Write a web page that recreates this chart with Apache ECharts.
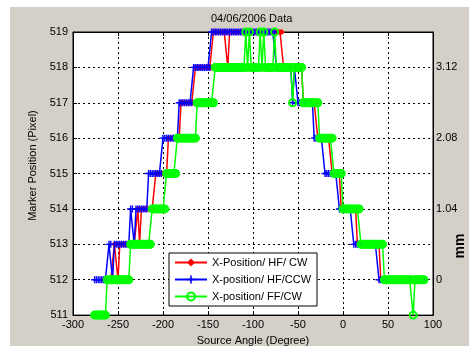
<!DOCTYPE html>
<html>
<head>
<meta charset="utf-8">
<script src="https://cdn.jsdelivr.net/npm/echarts@6/dist/echarts.min.js"></script>
<style>
html, body { margin: 0; padding: 0; background: #fff; }
#frame { position: absolute; left: 10px; top: 7px; width: 459px; height: 339px; background: #d4d0c8; }
#chart { position: absolute; left: 0; top: 0; width: 469px; height: 351px; }
</style>
</head>
<body>
<div id="frame"></div>
<div id="chart"></div>
<script>
// source angle (degree) of each sample
var angles = [
  -276, -274, -272, -270, -268, -266, -264, -262, -260, -258,
  -256, -254, -252, -250, -248, -246, -244, -242, -240, -238,
  -236, -234, -232, -230, -228, -226, -224, -222, -220, -218,
  -216, -214, -212, -210, -208, -206, -204, -202, -200, -198,
  -196, -194, -192, -190, -188, -186, -184, -182, -180, -178,
  -176, -174, -172, -170, -168, -166, -164, -162, -160, -158,
  -156, -154, -152, -150, -148, -146, -144, -142, -140, -138,
  -136, -134, -132, -130, -128, -126, -124, -122, -120, -118,
  -116, -114, -112, -110, -108, -106, -104, -102, -100, -98,
  -96, -94, -92, -90, -88, -86, -84, -82, -80, -78,
  -76, -74, -72, -70, -68, -66, -64, -62, -60, -58,
  -56, -54, -52, -50, -48, -46, -44, -42, -40, -38,
  -36, -34, -32, -30, -28, -26, -24, -22, -20, -18,
  -16, -14, -12, -10, -8, -6, -4, -2, 0, 2,
  4, 6, 8, 10, 12, 14, 16, 18, 20, 22,
  24, 26, 28, 30, 32, 34, 36, 38, 40, 42,
  44, 46, 48, 50, 52, 54, 56, 58, 60, 62,
  64, 66, 68, 70, 72, 74, 76, 78, 80, 82,
  84, 86, 88, 90
];

// X-Position/ HF/ CW (red)
var hfCw = [
  null, null, null, null, null, 512, 512, 512, 512, 512,
  512, 513, 513, 512, 513, 513, 513, 513, 513, 513,
  513, 513, 513, 513, 514, 513, 514, 514, 514, 514,
  514, 514, 514, 514, 515, 515, 515, 515, 515, 515,
  515, 516, 516, 516, 516, 516, 516, 516, 517, 517,
  517, 517, 517, 517, 517, 517, 518, 518, 518, 518,
  518, 518, 518, 518, 518, 518, 519, 519, 519, 519,
  519, 519, 519, 519, 518, 519, 519, 519, 519, 519,
  519, 519, 519, 519, 519, 519, 519, 519, 519, 519,
  519, 519, 519, 519, 519, 519, 519, 519, 519, 519,
  519, 519, 519, 519, 519, 518, 518, 518, 518, 518,
  518, 518, 518, 518, 518, 518, 517, 517, 517, 517,
  517, 517, 517, 517, 516, 516, 516, 516, 516, 516,
  516, 516, 515, 515, 515, 515, 515, 514, 514, 514,
  514, 514, 514, 514, 514, 514, 513, 513, 513, 513,
  513, 513, 513, 513, 513, 513, 513, 513, 513, 512,
  512, 512, 512, 512, 512, 512, 512, 512, 512, 512,
  512, 512, 512, 512, 512, 512, 512, 512, 512, 512,
  512, 512, 512, 512
];

// X-position/ HF/CCW (blue)
var hfCcw = [
  512, 512, 512, 512, 512, 512, 512, 512, 513, 513,
  512, 513, 513, 513, 513, 513, 513, 513, 513, 513,
  514, 514, 513, 514, 514, 514, 514, 514, 514, 514,
  515, 515, 515, 515, 515, 515, 515, 515, 516, 516,
  516, 516, 516, 516, 516, 516, 516, 517, 517, 517,
  517, 517, 517, 517, 517, 518, 518, 518, 518, 518,
  518, 518, 518, 518, 518, 519, 519, 519, 519, 519,
  519, 519, 519, 519, 519, 519, 519, 519, 519, 519,
  519, 519, 519, 519, 519, 519, 519, 519, 519, 519,
  519, 519, 519, 519, 519, 519, 519, 519, 519, 519,
  519, 518, 518, 518, 518, 518, 518, 518, 518, 518,
  517, 518, 518, 517, 517, 517, 517, 517, 517, 517,
  517, 517, 516, 516, 516, 516, 516, 516, 515, 515,
  515, 515, 515, 515, 515, 515, 514, 514, 514, 514,
  514, 514, 514, 514, 513, 513, 513, 513, 513, 513,
  513, 513, 513, 513, 513, 513, 513, 513, 512, 512,
  512, 512, 512, 512, 512, 512, 512, 512, 512, 512,
  512, 512, 512, 512, 512, 512, 512, 512, 512, 512,
  512, 512, 512, 512
];

// X-position/ FF/CW (green)
var ffCw = [
  511, 511, 511, 511, 511, 511, 511, 512, 512, 512,
  512, 512, 512, 512, 512, 512, 512, 512, 512, 512,
  513, 513, 513, 513, 513, 513, 513, 513, 513, 513,
  513, 513, 514, 514, 514, 514, 514, 514, 514, 514,
  515, 515, 515, 515, 515, 515, 516, 516, 516, 516,
  516, 516, 516, 516, 516, 516, 516, 517, 517, 517,
  517, 517, 517, 517, 517, 517, 517, 518, 518, 518,
  518, 518, 518, 518, 518, 518, 518, 518, 518, 518,
  518, 518, 518, 518, 519, 518, 519, 518, 518, 518,
  518, 518, 519, 518, 519, 518, 518, 518, 518, 518,
  519, 518, 518, 518, 518, 518, 518, 518, 518, 518,
  517, 518, 518, 518, 518, 518, 517, 517, 517, 517,
  517, 517, 517, 517, 517, 516, 516, 516, 516, 516,
  516, 516, 516, 515, 515, 515, 515, 515, 514, 514,
  514, 514, 514, 514, 514, 514, 514, 514, 513, 513,
  513, 513, 513, 513, 513, 513, 513, 513, 513, 513,
  513, 512, 512, 512, 512, 512, 512, 512, 512, 512,
  512, 512, 512, 512, 512, 512, 512, 511, 512, 512,
  512, 512, 512, 512
];

var seriesNames = ["X-Position/ HF/ CW", "X-position/ HF/CCW", "X-position/ FF/CW"];

// right axis: pixel -> mm
var mmTicks = [512, 514, 516, 518];
var mmLabels = ["0", "1.04", "2.08", "3.12"];

var font = "Liberation Sans, Arial, sans-serif";
var chart = echarts.init(document.getElementById("chart"));

//角度和像素值组成坐标点
function toPairs (vals) {
  var arr = [];
  for (var i = 0; i < vals.length; i++) {
    if (vals[i] !== null) {
      arr.push([angles[i], vals[i]]);
    }
  }
  return arr;
}

var gridLine = { show: true, lineStyle: { color: "#000", width: 1, type: [2, 3] } };
var blackLine = { show: true, onZero: false, lineStyle: { color: "#000", width: 1 } };

var option = {
  animation: false,
  textStyle: { fontFamily: font },
  title: {
    text: "04/06/2006 Data",
    left: 211,
    top: 13,
    padding: 0,
    textStyle: { fontSize: 11, fontWeight: "normal", color: "#000", fontFamily: font }
  },
  legend: {
    left: 169,
    top: 253,
    orient: "vertical",
    itemWidth: 32,
    itemHeight: 10,
    itemGap: 6,
    padding: [4, 6, 4, 5],
    backgroundColor: "#fff",
    borderColor: "#000",
    borderWidth: 1,
    borderRadius: 0,
    textStyle: { fontSize: 11, color: "#000", fontFamily: font },
    data: seriesNames
  },
  grid: {
    left: 73, right: 36, top: 32, bottom: 34,
    show: true,
    backgroundColor: "#fff",
    borderColor: "#000",
    borderWidth: 1
  },
  xAxis: [{
    type: "value",
    position: "bottom",
    min: -300, max: 100, interval: 50,
    name: "Source Angle (Degree)",
    nameLocation: "middle",
    nameGap: 17,
    nameTextStyle: { fontSize: 11, color: "#000" },
    axisLine: blackLine,
    axisTick: { show: true, inside: true, length: 4, lineStyle: { color: "#000" } },
    axisLabel: { fontSize: 11, color: "#000", margin: 4 },
    splitLine: gridLine
  }, {
    type: "value",
    position: "top",
    min: -300, max: 100, interval: 50,
    axisLine: blackLine,
    axisTick: { show: true, inside: true, length: 4, lineStyle: { color: "#000" } },
    axisLabel: { show: false },
    splitLine: { show: false }
  }],
  yAxis: [{
    type: "value",
    position: "left",
    min: 511, max: 519, interval: 1,
    name: "Marker Position (Pixel)",
    nameLocation: "middle",
    nameGap: 26,
    nameTextStyle: { fontSize: 11, color: "#000", padding: [0, 0, 0, 16] },
    axisLine: blackLine,
    axisTick: { show: true, inside: true, length: 4, lineStyle: { color: "#000" } },
    axisLabel: { fontSize: 11, color: "#000", margin: 5 },
    splitLine: gridLine
  }, {
    type: "value",
    position: "right",
    min: 511, max: 519, interval: 1,
    axisLine: blackLine,
    axisTick: { show: false },
    axisLabel: {
      fontSize: 11, color: "#000", margin: 3,
      formatter: function (v) {
        var k = mmTicks.indexOf(v);
        return k === -1 ? "" : mmLabels[k];
      }
    },
    splitLine: { show: false }
  }],
  graphic: [{
    type: "text",
    x: 460,
    y: 246,
    rotation: Math.PI / 2,
    style: {
      text: "mm",
      fill: "#000",
      font: "bold 14px " + font,
      textAlign: "center",
      textVerticalAlign: "middle"
    }
  }],
  series: [{
    name: seriesNames[0],
    type: "line",
    data: toPairs(hfCw),
    symbol: "diamond",
    symbolSize: 6,
    showAllSymbol: true,
    lineStyle: { color: "#ff0000", width: 1.5 },
    itemStyle: { color: "#ff0000" }
  }, {
    name: seriesNames[1],
    type: "line",
    data: toPairs(hfCcw),
    symbol: "path://M4,0H6V4H10V6H6V10H4V6H0V4H4Z",
    symbolSize: 7,
    showAllSymbol: true,
    lineStyle: { color: "#0000ff", width: 1.5 },
    itemStyle: { color: "#0000ff" }
  }, {
    name: seriesNames[2],
    type: "line",
    data: toPairs(ffCw),
    symbol: "circle",
    symbolSize: 7,
    showAllSymbol: true,
    lineStyle: { color: "#00ff00", width: 1.5 },
    itemStyle: { color: "rgba(0,0,0,0)", borderColor: "#00ff00", borderWidth: 2 }
  }]
};

chart.setOption(option);
</script>
</body>
</html>
